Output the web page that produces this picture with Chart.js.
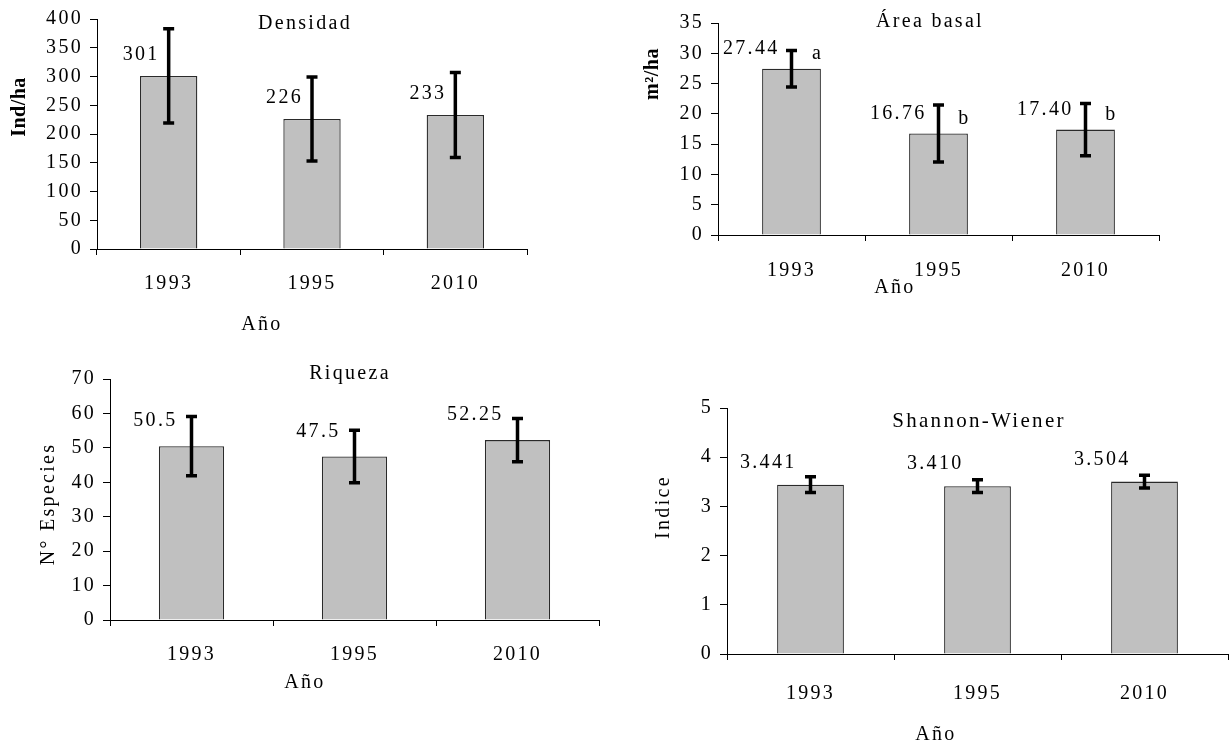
<!DOCTYPE html>
<html>
<head>
<meta charset="utf-8">
<script src="https://cdn.jsdelivr.net/npm/chart.js@4.4.0/dist/chart.umd.min.js"></script>
<style>
  body { margin: 0; background: #fff; }
  #wrap { position: relative; width: 1231px; height: 744px; }
  canvas { position: absolute; }
</style>
</head>
<body>
<div id="wrap">
  <canvas id="c1" width="615" height="360" style="left:0px;top:0px"></canvas>
  <canvas id="c2" width="616" height="360" style="left:615px;top:0px"></canvas>
  <canvas id="c3" width="615" height="384" style="left:0px;top:360px"></canvas>
  <canvas id="c4" width="616" height="384" style="left:615px;top:360px"></canvas>
</div>
<script>
const years = ['1993', '1995', '2010'];

const densidad = [301, 226, 233];
const densidadErr = [82, 73, 74];
const densidadTicks = [0, 400, 50];

const areaBasal = [27.44, 16.76, 17.40];
const areaBasalErr = [3.0, 4.7, 4.3];
const areaLetters = ['a', 'b', 'b'];
const areaTicks = [0, 35, 5];

const riqueza = [50.5, 47.5, 52.25];
const riquezaErr = [8.6, 7.6, 6.3];
const riquezaTicks = [0, 70, 10];

const shannon = [3.441, 3.410, 3.504];
const shannonErr = [0.16, 0.13, 0.13];
const shannonTicks = [0, 5, 1];

const FONT = 'Liberation Serif';

// per-panel extras, kept out of chart options so Chart.js does not call the functions
let panels = {};

const panelPlugin = {
    id: 'panel',
    beforeDraw(chart) {
        chart.ctx.letterSpacing = '2.3px';
    },
    afterDatasetsDraw(chart) {
        let p = panels[chart.canvas.id];
        let ctx = chart.ctx;
        let y = chart.scales.y;
        let meta = chart.getDatasetMeta(0);
        ctx.save();
        ctx.strokeStyle = '#000';
        ctx.fillStyle = '#000';
        meta.data.forEach((bar, i) => {
            let v = p.values[i], e = p.errors[i];
            let top = y.getPixelForValue(v + e);
            let bot = y.getPixelForValue(v - e);
            ctx.lineWidth = 3.5;
            ctx.beginPath();
            ctx.moveTo(bar.x, top);
            ctx.lineTo(bar.x, bot);
            ctx.moveTo(bar.x - 5.5, top);
            ctx.lineTo(bar.x + 5.5, top);
            ctx.moveTo(bar.x - 5.5, bot);
            ctx.lineTo(bar.x + 5.5, bot);
            ctx.stroke();

            ctx.font = '20px "' + FONT + '"';
            ctx.textAlign = 'right';
            ctx.textBaseline = 'middle';
            ctx.fillText(p.format(v), bar.x + p.dx, bar.y + p.dy);
            if (p.letters) {
                ctx.textAlign = 'center';
                ctx.fillText(p.letters[i], bar.x + 26, bar.y + p.dy + 5);
            }
        });

        ctx.textAlign = 'center';
        ctx.textBaseline = 'middle';
        ctx.font = p.titleSize + 'px "' + FONT + '"';
        ctx.fillText(p.title[0], p.title[1], p.title[2]);
        ctx.font = '20px "' + FONT + '"';
        ctx.fillText('Año', p.xTitle[0], p.xTitle[1]);
        if (p.yBold) {
            ctx.font = 'bold 20px "' + FONT + '"';
            ctx.letterSpacing = '0.5px';
        }
        ctx.translate(p.yTitle[1], p.yTitle[2]);
        ctx.rotate(-Math.PI / 2);
        ctx.fillText(p.yTitle[0], 0, 0);
        ctx.restore();
    }
};

function makeChart(id, values, errors, ticks, pad, xPad, panel) {
    let ctx = document.getElementById(id).getContext('2d');
    panel.values = values;
    panel.errors = errors;
    panels[id] = panel;
    return new Chart(ctx, {
        type: 'bar',
        data: {
            labels: years,
            datasets: [{
                data: values,
                backgroundColor: '#c0c0c0',
                borderColor: '#2a2a2a',
                borderWidth: 1.3,
                barPercentage: 0.4,
                categoryPercentage: 1.0
            }]
        },
        options: {
            responsive: false,
            animation: false,
            layout: { padding: pad },
            plugins: {
                legend: { display: false },
                tooltip: { enabled: false }
            },
            scales: {
                x: {
                    offset: true,
                    afterFit: s => { s.height = 50; },
                    grid: { offset: true, drawOnChartArea: false, tickLength: 6, color: '#000' },
                    border: { color: '#000', width: 1 },
                    ticks: { color: '#000', padding: xPad, font: { family: FONT, size: 20 } }
                },
                y: {
                    min: ticks[0],
                    max: ticks[1],
                    afterFit: s => { s.width = 60; },
                    grid: { drawOnChartArea: false, tickLength: 7, color: '#000' },
                    border: { color: '#000', width: 1 },
                    ticks: { stepSize: ticks[2], color: '#000', padding: 7, font: { family: FONT, size: 20 } }
                }
            }
        },
        plugins: [panelPlugin]
    });
}

makeChart('c1', densidad, densidadErr, densidadTicks,
    { left: 37, top: 15, right: 88, bottom: 61 }, 17,
    { format: v => String(v), dx: -9, dy: -21, titleSize: 20,
      title: ['Densidad', 305, 24], yTitle: ['Ind/ha', 20, 107], yBold: true, xTitle: [262, 325] });

makeChart('c2', areaBasal, areaBasalErr, areaTicks,
    { left: 43, top: 23, right: 72, bottom: 75 }, 18,
    { format: v => v.toFixed(2), dx: -12, dy: -20, letters: areaLetters, titleSize: 20,
      title: ['Área basal', 315, 22], yTitle: ['m²/ha', 38, 74], yBold: true, xTitle: [280, 288] });

makeChart('c3', riqueza, riquezaErr, riquezaTicks,
    { left: 50, top: 18, right: 16, bottom: 74 }, 17,
    { format: v => String(v), dx: -14, dy: -25, titleSize: 20,
      title: ['Riqueza', 350, 14], yTitle: ['N° Especies', 49, 144], yBold: false, xTitle: [305, 323] });

makeChart('c4', shannon, shannonErr, shannonTicks,
    { left: 52, top: 48, right: 3, bottom: 40 }, 22,
    { format: v => v.toFixed(3), dx: -14, dy: -22, titleSize: 21,
      title: ['Shannon-Wiener', 364, 61], yTitle: ['Indice', 49, 147], yBold: false, xTitle: [321, 375] });
</script>
</body>
</html>
